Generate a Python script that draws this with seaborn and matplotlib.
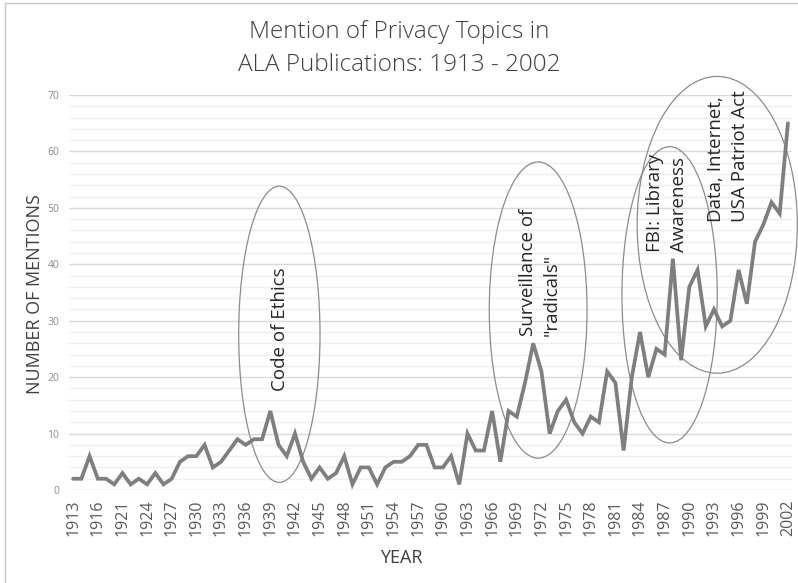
import numpy as np
import pandas as pd
import matplotlib
matplotlib.use("Agg")
import matplotlib.pyplot as plt
from matplotlib.patches import Ellipse, Rectangle
from matplotlib.ticker import MultipleLocator
import seaborn as sns

sns.set_style("white")
plt.rcParams["font.family"] = ["Open Sans", "DejaVu Sans"]

# Excel category axis: two years between 1916 and 1921 are absent
years = [1913, 1914, 1915, 1916, 1918, 1919] + list(range(1921, 2003))
mentions = [
    2, 2, 6, 2, 2, 1,
    3, 1, 2, 1, 3, 1, 2, 5, 6, 6, 8, 4, 5, 7, 9, 8, 9, 9, 14, 8, 6, 10,  # 1921-1942
    5, 2, 4, 2, 3, 6, 1, 4, 4, 1, 4, 5, 5, 6, 8, 8, 4, 4, 6, 1,           # 1943-1962
    10, 7, 7, 14, 5, 14, 13, 19, 26, 21, 10, 14, 16, 12, 10, 13, 12,      # 1963-1979
    21, 19, 7, 20, 28, 20, 25, 24, 41, 23, 36, 39, 29, 32, 29, 30,        # 1980-1995
    39, 33, 44, 47, 51, 49, 65,                                           # 1996-2002
]

# callouts: label, text centre (x, y), ellipse centre (x, y), width, height
callouts = [
    ("Code of Ethics", (25.2, 28.5), (25.1, 27.6), 9.9, 52.5),
    ("Surveillance of\n\"radicals\"", (56.8, 38.5), (56.6, 31.9), 11.9, 52.5),
    ("FBI: Library\nAwareness", (72.3, 50.9), (72.6, 34.6), 11.6, 52.5),
    ("Data, Internet,\nUSA Patriot Act", (79.7, 59.2), (78.4, 47.0), 19.5, 52.6),
]

df = pd.DataFrame({"year": years, "mentions": mentions})
df["pos"] = np.arange(len(df))

fig = plt.figure(figsize=(7.98, 5.83), dpi=100)
ax = fig.add_axes([0.0865, 0.1595, 0.906, 0.6775])

sns.lineplot(data=df, x="pos", y="mentions", ax=ax, color="#7f7f7f",
             linewidth=2.7, solid_joinstyle="miter")

ax.set_xlim(-0.5, len(df) - 0.5)
ax.set_ylim(0, 70)
ax.yaxis.set_major_locator(MultipleLocator(10))
ax.yaxis.set_minor_locator(MultipleLocator(2))
ax.grid(which="major", axis="y", color="#d9d9d9", linewidth=1.0)
ax.grid(which="minor", axis="y", color="#efefef", linewidth=1.0)
ax.set_axisbelow(True)
for s in ax.spines.values():
    s.set_visible(False)

ax.set_xticks(df["pos"][::3])
ax.set_xticklabels(df["year"][::3], rotation=90, fontsize=11.5, color="#595959")
ax.tick_params(axis="x", length=0, pad=7)
ax.tick_params(axis="y", which="both", length=0, pad=7, labelsize=7.5,
               labelcolor="#8c8c8c")

ax.set_xlabel("YEAR", fontsize=13, color="#404040")
ax.xaxis.set_label_coords(0.459, -0.15)
ax.set_ylabel("NUMBER OF MENTIONS", fontsize=13, color="#404040")
ax.yaxis.set_label_coords(-0.034, 0.495)

for label, (tx, ty), (ex, ey), w, h in callouts:
    ax.add_patch(Ellipse((ex, ey), w, h, fill=False, edgecolor="#8c8c8c",
                         linewidth=0.9, clip_on=False))
    ax.text(tx, ty, label, rotation=90, ha="center", va="center",
            multialignment="left", fontsize=13.5, color="#262626",
            linespacing=1.4)

fig.text(0.5, 0.917, "Mention of Privacy Topics in\nALA Publications: 1913 - 2002",
         ha="center", va="center", fontsize=17.5, color="#404040",
         fontweight="light", linespacing=1.5)

fig.add_artist(Rectangle((5 / 798, -0.1), 1.2, 1.1 - 3 / 583, transform=fig.transFigure,
                         fill=False, edgecolor="#c8c8c8", linewidth=1.0))

plt.savefig("out.png", dpi=100)
plt.close()
